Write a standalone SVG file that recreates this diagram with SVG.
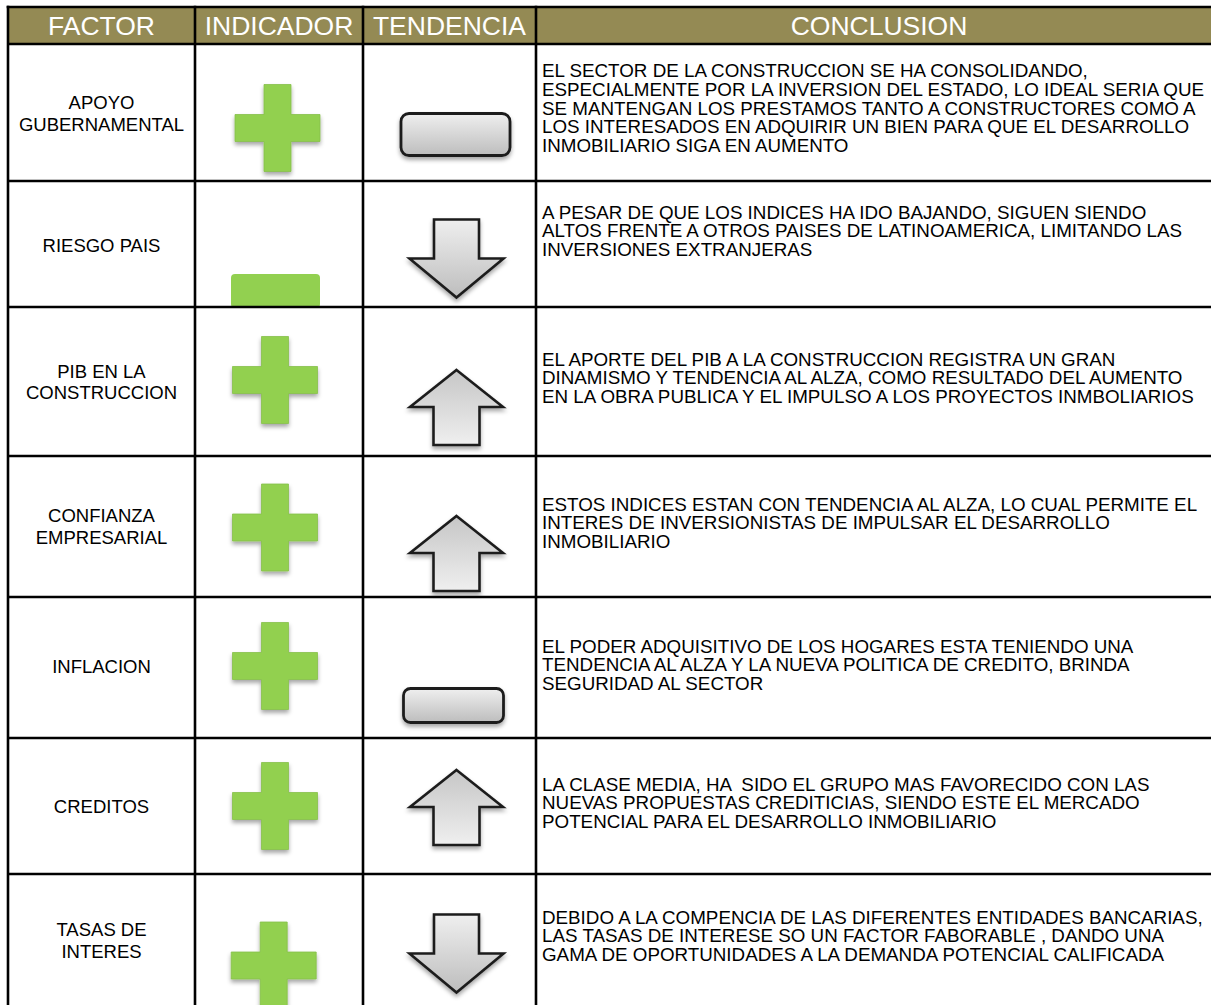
<svg xmlns="http://www.w3.org/2000/svg" xmlns:xlink="http://www.w3.org/1999/xlink" width="1211" height="1005" viewBox="0 0 1211 1005">
<style>
.hdr{font-family:"Liberation Sans",Arial,sans-serif;font-size:26.5px;fill:#ffffff;text-anchor:middle}
.fac{font-family:"Liberation Sans",Arial,sans-serif;font-size:18.5px;fill:#000;text-anchor:middle}
.con{font-family:"Liberation Sans",Arial,sans-serif;font-size:18.8px;fill:#000;white-space:pre}
.grid{stroke:#000;stroke-width:2.6;fill:none}
.plus{fill:#92D050;stroke:#86bf4a;stroke-width:0.8}
.gbox{stroke:#1e1e1e;stroke-width:2.8}
</style>
<defs>
<filter id="sh" x="-20%" y="-20%" width="140%" height="150%">
<feDropShadow dx="0" dy="3" stdDeviation="2.2" flood-color="#000" flood-opacity="0.35"/>
</filter>
<linearGradient id="gDown" x1="0" y1="0" x2="0" y2="1">
<stop offset="0" stop-color="#efefef"/>
<stop offset="1" stop-color="#bdbdbd"/>
</linearGradient>
<linearGradient id="gUp" x1="0" y1="0" x2="0" y2="1">
<stop offset="0" stop-color="#c6c6c6"/>
<stop offset="1" stop-color="#efefef"/>
</linearGradient>
<path id="plusShape" class="plus" d="M-13.5,-43.5 h27 v30 h29 v27 h-29 v30 h-27 v-30 h-29 v-27 h29 z"/>
<path id="upShape" d="M0,0 L46.5,37 L23,37 L23,75 L-23,75 L-23,37 L-46.5,37 Z" fill="url(#gUp)" stroke="#1e1e1e" stroke-width="2.6" stroke-linejoin="miter"/>
<path id="downShape" d="M-22.5,0 H22.5 V39 H47 L0,78 L-47,39 H-22.5 Z" fill="url(#gDown)" stroke="#1e1e1e" stroke-width="2.6" stroke-linejoin="miter"/>
</defs>
<rect width="1211" height="1005" fill="#ffffff"/>

<g id="header">
<rect x="8" y="7" width="1203" height="37" fill="#948A54"/>
<text class="hdr" x="101.5" y="35">FACTOR</text>
<text class="hdr" x="279" y="35">INDICADOR</text>
<text class="hdr" x="449.5" y="35">TENDENCIA</text>
<text class="hdr" x="879" y="35">CONCLUSION</text>
</g>

<g id="row1">
<text class="fac" x="101.5" y="109">APOYO</text>
<text class="fac" x="101.5" y="130.7">GUBERNAMENTAL</text>
<use xlink:href="#plusShape" href="#plusShape" x="277.5" y="128" filter="url(#sh)"/>
<rect class="gbox" x="401" y="113.5" width="109" height="42" rx="8" fill="url(#gDown)" filter="url(#sh)"/>
<text class="con" x="542" y="77">EL SECTOR DE LA CONSTRUCCION SE HA CONSOLIDANDO,</text>
<text class="con" x="542" y="95.8">ESPECIALMENTE POR LA INVERSION DEL ESTADO, LO IDEAL SERIA QUE</text>
<text class="con" x="542" y="114.6">SE MANTENGAN LOS PRESTAMOS TANTO A CONSTRUCTORES COMO A</text>
<text class="con" x="542" y="133.4">LOS INTERESADOS EN ADQUIRIR UN BIEN PARA QUE EL DESARROLLO</text>
<text class="con" x="542" y="152.2">INMOBILIARIO SIGA EN AUMENTO</text>
</g>

<g id="row2">
<text class="fac" x="101.5" y="251.7">RIESGO PAIS</text>
<rect x="231" y="274" width="89" height="34" rx="4" fill="#92D050"/>
<use xlink:href="#downShape" href="#downShape" x="456.5" y="219.5" filter="url(#sh)"/>
<text class="con" x="542" y="218.6">A PESAR DE QUE LOS INDICES HA IDO BAJANDO, SIGUEN SIENDO</text>
<text class="con" x="542" y="237.4">ALTOS FRENTE A OTROS PAISES DE LATINOAMERICA, LIMITANDO LAS</text>
<text class="con" x="542" y="256.2">INVERSIONES EXTRANJERAS</text>
</g>

<g id="row3">
<text class="fac" x="101.5" y="378">PIB EN LA</text>
<text class="fac" x="101.5" y="399.3">CONSTRUCCION</text>
<use xlink:href="#plusShape" href="#plusShape" x="275" y="380" filter="url(#sh)"/>
<use xlink:href="#upShape" href="#upShape" x="456.5" y="370" filter="url(#sh)"/>
<text class="con" x="542" y="365.6">EL APORTE DEL PIB A LA CONSTRUCCION REGISTRA UN GRAN</text>
<text class="con" x="542" y="384.4">DINAMISMO Y TENDENCIA AL ALZA, COMO RESULTADO DEL AUMENTO</text>
<text class="con" x="542" y="403.2">EN LA OBRA PUBLICA Y EL IMPULSO A LOS PROYECTOS INMBOLIARIOS</text>
</g>

<g id="row4">
<text class="fac" x="101.5" y="521.7">CONFIANZA</text>
<text class="fac" x="101.5" y="544">EMPRESARIAL</text>
<use xlink:href="#plusShape" href="#plusShape" x="275" y="527.5" filter="url(#sh)"/>
<use xlink:href="#upShape" href="#upShape" x="456.5" y="516" filter="url(#sh)"/>
<text class="con" x="542" y="510.6">ESTOS INDICES ESTAN CON TENDENCIA AL ALZA, LO CUAL PERMITE EL</text>
<text class="con" x="542" y="529.4">INTERES DE INVERSIONISTAS DE IMPULSAR EL DESARROLLO</text>
<text class="con" x="542" y="548.2">INMOBILIARIO</text>
</g>

<g id="row5">
<text class="fac" x="101.5" y="673.3">INFLACION</text>
<use xlink:href="#plusShape" href="#plusShape" x="275" y="666" filter="url(#sh)"/>
<rect class="gbox" x="403.5" y="688.5" width="100" height="34" rx="7" fill="url(#gDown)" filter="url(#sh)"/>
<text class="con" x="542" y="652.6">EL PODER ADQUISITIVO DE LOS HOGARES ESTA TENIENDO UNA</text>
<text class="con" x="542" y="671.4">TENDENCIA AL ALZA Y LA NUEVA POLITICA DE CREDITO, BRINDA</text>
<text class="con" x="542" y="690.2">SEGURIDAD AL SECTOR</text>
</g>

<g id="row6">
<text class="fac" x="101.5" y="813.3">CREDITOS</text>
<use xlink:href="#plusShape" href="#plusShape" x="275" y="806" filter="url(#sh)"/>
<use xlink:href="#upShape" href="#upShape" x="456.5" y="770" filter="url(#sh)"/>
<text class="con" x="542" y="790.6">LA CLASE MEDIA, HA  SIDO EL GRUPO MAS FAVORECIDO CON LAS</text>
<text class="con" x="542" y="809.4">NUEVAS PROPUESTAS CREDITICIAS, SIENDO ESTE EL MERCADO</text>
<text class="con" x="542" y="828.2">POTENCIAL PARA EL DESARROLLO INMOBILIARIO</text>
</g>

<g id="row7">
<text class="fac" x="101.5" y="936">TASAS DE</text>
<text class="fac" x="101.5" y="958.3">INTERES</text>
<use xlink:href="#plusShape" href="#plusShape" x="273.7" y="965.5" filter="url(#sh)"/>
<use xlink:href="#downShape" href="#downShape" x="456.5" y="914.5" filter="url(#sh)"/>
<text class="con" x="542" y="923.6">DEBIDO A LA COMPENCIA DE LAS DIFERENTES ENTIDADES BANCARIAS,</text>
<text class="con" x="542" y="942.4">LAS TASAS DE INTERESE SO UN FACTOR FABORABLE , DANDO UNA</text>
<text class="con" x="542" y="961.2">GAMA DE OPORTUNIDADES A LA DEMANDA POTENCIAL CALIFICADA</text>
</g>

<g id="connectors" class="grid">
<path d="M6.7,7 H1211"/>
<path d="M8,44 H1211 M8,181 H1211 M8,307 H1211 M8,456 H1211 M8,597 H1211 M8,738 H1211 M8,874 H1211"/>
<path d="M8,5.7 V1005 M195,5.7 V1005 M363,5.7 V1005 M536,5.7 V1005"/>
</g>
</svg>
